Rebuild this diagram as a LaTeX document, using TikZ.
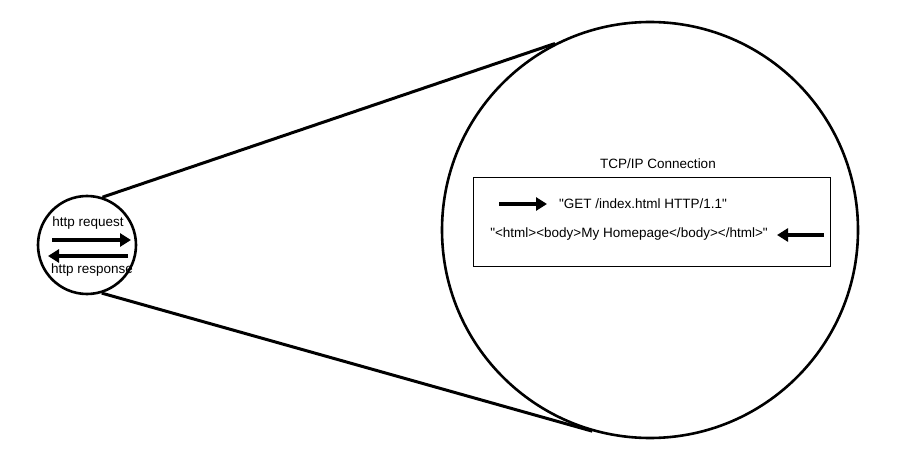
\documentclass[tikz,border=0pt]{standalone}
\usepackage{fontspec}
\setmainfont{Liberation Sans}
\usetikzlibrary{positioning}
\usetikzlibrary{arrows.meta}
\newcommand{\qt}{\textquotedbl}
\begin{document}
\begin{tikzpicture}[
    x=1pt, y=-1pt,
    ring/.style={circle, draw, line width=2.6pt, inner sep=0pt},
    flow/.style={-{Triangle[length=11pt, width=13pt]}, line width=3.8pt},
    label/.style={font=\fontsize{13.5}{15}\selectfont, inner sep=1pt}
]
    \useasboundingbox (0,0) rectangle (919,468);

    % the two ends of the zoom
    \node[ring, minimum size=98pt] (peer) at (87,245) {};
    \node[ring, minimum size=416pt] (zoom) at (650,230) {};

    \draw[line width=3pt] (peer.72) -- (zoom.117);
    \draw[line width=3pt] (peer.-73) -- (zoom.254);

    % small circle
    \node[label] (req) at (88,223) {http request};
    \node[label] (resp) at (92,270) {http response};
    \coordinate (r1) at (52,240);
    \coordinate (r2) at (131,240);
    \coordinate (s1) at (128,256);
    \coordinate (s2) at (48,256);
    \draw[flow] (r1) -- (r2);
    \draw[flow] (s1) -- (s2);

    % connection box
    \node[draw, line width=1.8pt, minimum width=357pt, minimum height=89pt] (conn) at (652,222) {};
    \node[label] (title) at (658,164) {TCP/IP Connection};
    \node[label] (get) at (643,204) {\qt GET /index.html HTTP/1.1\qt};
    \node[label] (page) at (629,234) {\qt<html><body>My Homepage</body></html>\qt};
    \coordinate (g1) at (499,204);
    \coordinate (g2) at (547,204);
    \coordinate (p1) at (824,235);
    \coordinate (p2) at (777,235);
    \draw[flow] (g1) -- (g2);
    \draw[flow] (p1) -- (p2);
\end{tikzpicture}
\end{document}
